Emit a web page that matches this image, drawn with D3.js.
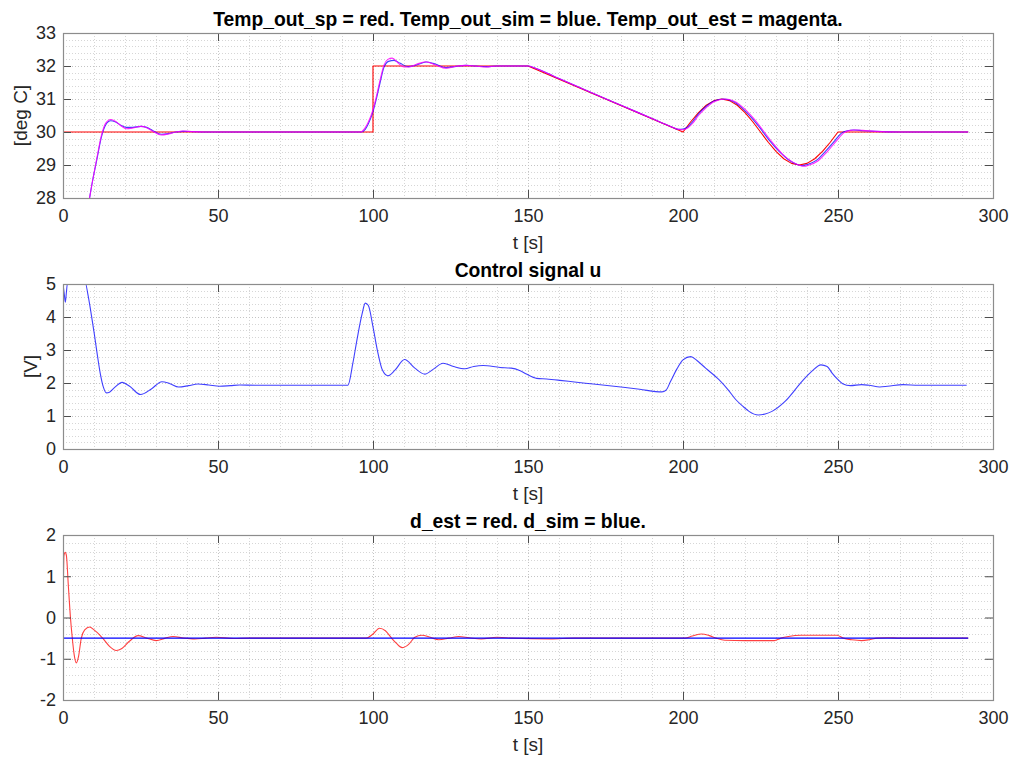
<!DOCTYPE html>
<html><head><meta charset="utf-8">
<script src="https://cdn.jsdelivr.net/npm/d3@7"></script>
<style>
html,body{margin:0;padding:0;background:#fff;}
svg text{font-family:"Liberation Sans",Arial,Helvetica,sans-serif;}
</style></head>
<body><svg id="c" width="1013" height="758"></svg>
<script>
// ---------- DATA ----------
// Panel 1: temperatures
const spT = [0,100,100,150,200,202.5,205,207.5,210,212.5,215,217.5,220,222.5,225,227.5,230,232.5,235,237.5,240,242.5,245,247.5,250,292];
const spV = [30,30,32,32,30,30.31,30.59,30.81,30.95,31.0,30.95,30.81,30.59,30.31,30.0,29.69,29.41,29.19,29.05,29.0,29.05,29.19,29.41,29.69,30.0,30.0];

const simT = [0,3,6,8,9.5,11,12.4,13.8,15.4,17,18.8,20.4,22.5,25.1,27,29,31.7,34,36.5,38.7,42,46,60,96.2,97.5,98.5,100,101.2,102.3,103.5,105,106.8,108.8,111.3,114,117.1,120,123.6,126.8,130,133,136.5,140,145,150,152,155,160,170,180,190,196,198.5,200,201.5,203,205,207.5,210,213,216,219,222,225,228,231,234,237,238.5,240,243,246,249,251,253,255,258,262,270,292];
const simV = [23.5,25.2,26.8,27.7,28.5,29.2,29.85,30.22,30.34,30.3,30.2,30.14,30.14,30.17,30.14,30.04,29.93,29.95,30.0,30.02,30.01,30.0,30.0,30.0,30.08,30.25,30.62,31.05,31.5,31.95,32.14,32.17,32.08,31.98,32.03,32.12,32.06,31.95,31.99,32.02,32.0,31.98,32.0,32.0,32.0,31.95,31.83,31.62,31.21,30.81,30.41,30.17,30.08,30.09,30.15,30.3,30.55,30.78,30.94,31.0,30.93,30.73,30.44,30.1,29.73,29.41,29.16,29.01,28.98,29.01,29.14,29.42,29.74,29.96,30.04,30.06,30.04,30.02,30.0,30.0];

const estT = [0,3,6,8,9.5,11,12.4,13.8,15.4,17,18.8,20.4,22.5,25.1,27,29,31.7,34,36.5,38.7,42,46,60,96.0,97.3,98.5,100,101.2,102.3,103.5,104.8,106.2,108,110,111.5,114,117,120,123.6,126.8,130,133,136.5,140,145,150,152,155,160,170,180,190,196,198.5,200,201.5,203,205,207.5,210,213.5,216.5,219.5,222.5,226.2,229,232,235,237.5,239,240.5,243.5,246.5,249.5,252,254,255.5,258,262,270,292];
const estV = [23.3,25.1,26.8,27.7,28.5,29.25,29.9,30.27,30.38,30.32,30.18,30.1,30.12,30.17,30.13,30.02,29.91,29.94,30.0,30.03,30.01,30.0,30.0,30.0,30.1,30.3,30.68,31.12,31.58,32.02,32.2,32.24,32.1,31.97,31.97,32.05,32.13,32.04,31.93,31.99,32.02,32.0,31.97,32.0,32.0,32.0,31.95,31.83,31.62,31.21,30.81,30.41,30.17,30.08,30.07,30.12,30.25,30.5,30.74,30.92,31.0,30.93,30.73,30.44,30.0,29.66,29.34,29.11,28.99,28.96,28.99,29.12,29.4,29.73,29.98,30.05,30.06,30.05,30.02,30.0,30.0];

// Panel 2: control signal u
const uT = [0,0.4,0.75,1.1,1.4,7.3,8,9,10,11,12,13,14,15,16.5,19.1,21.5,25,28.5,31.9,34.5,37.3,40.5,43.5,47,50.5,54,57,62,70,91.9,93.5,95,96.5,97.5,98.5,100,101.5,103,104.8,107,110.2,113.5,116.7,119.5,122.6,126,129.6,132.5,135.5,141,144.6,147.3,149.5,152.8,156,160.3,165,171,180.7,186,193.2,194.5,196,198,200,202.5,204.5,207.3,211.6,214.5,217,219.5,221.3,224.3,226.5,228.7,233,238.4,241.5,244.5,246.5,248.1,250,251.5,254,257.6,260,263.5,266,271,276,291.5];
const uV = [5,4.7,4.45,4.75,5,5,4.7,4.15,3.55,2.9,2.3,1.88,1.7,1.72,1.85,2.02,1.9,1.65,1.82,2.04,1.98,1.88,1.92,1.97,1.94,1.9,1.92,1.94,1.93,1.93,1.93,2.6,3.4,4.1,4.42,4.35,3.7,2.95,2.4,2.22,2.38,2.71,2.45,2.27,2.42,2.6,2.5,2.43,2.5,2.53,2.47,2.45,2.38,2.27,2.14,2.12,2.08,2.03,1.97,1.87,1.81,1.73,1.78,2.05,2.42,2.7,2.8,2.68,2.45,2.1,1.8,1.5,1.28,1.14,1.03,1.06,1.14,1.45,2.05,2.35,2.55,2.5,2.3,2.1,1.98,1.92,1.95,1.93,1.88,1.9,1.95,1.93,1.93];

// Panel 3: disturbances
const dEstT = [0,0.3,0.7,1.1,1.7,2.4,3,3.6,4.3,5,5.9,7,8.6,10,11.8,13,15,17.2,19,21.5,24.2,27,30.1,33,35.5,39,42.5,46,49.5,55,60,97.8,100,102.1,104,106,107.5,109.4,111.5,113.5,115.7,118.5,121.2,124.5,127.7,131,134.9,140,145,157.3,165,200.6,203,206,208.5,210.7,213.5,220,229.4,231.6,234,238,244,249.6,251.7,254.5,257.6,260,262.6,266,270,292];
const dEstV = [0,1.5,1.58,1.5,0.8,0,-0.5,-0.9,-1.1,-0.95,-0.5,-0.3,-0.23,-0.3,-0.42,-0.52,-0.7,-0.8,-0.75,-0.57,-0.44,-0.5,-0.56,-0.5,-0.46,-0.5,-0.52,-0.5,-0.48,-0.51,-0.5,-0.5,-0.4,-0.26,-0.32,-0.5,-0.62,-0.73,-0.65,-0.48,-0.43,-0.48,-0.54,-0.5,-0.46,-0.49,-0.52,-0.48,-0.5,-0.52,-0.5,-0.5,-0.45,-0.4,-0.44,-0.5,-0.55,-0.56,-0.56,-0.5,-0.46,-0.43,-0.43,-0.43,-0.5,-0.54,-0.56,-0.54,-0.5,-0.49,-0.5,-0.5];
const dSimT = [0,292];
const dSimV = [-0.5,-0.5];

const xTicks = [0,50,100,150,200,250,300];
const y1Ticks = [28,29,30,31,32,33];
const y2Ticks = [0,1,2,3,4,5];
const y3Ticks = [-2,-1,0,1,2];

const titles = ["Temp_out_sp = red. Temp_out_sim = blue. Temp_out_est = magenta.","Control signal u","d_est = red. d_sim = blue."];
const yLabels = ["[deg C]","[V]",""];
const xLabel = "t [s]";

// ---------- DRAW ----------
const svg = d3.select("#c");
const L = 63, R = 993;
const x = d3.scaleLinear().domain([0,300]).range([L,R]);

function zip(t,v){ return t.map((d,i)=>[d,v[i]]); }

function panel(idx, top, bottom, ydom, yticks, ylabelX, series){
  const y = d3.scaleLinear().domain(ydom).range([bottom, top]);
  const g = svg.append("g");
  const clipId = "clip"+idx;
  svg.append("clipPath").attr("id",clipId).append("rect")
     .attr("x",L).attr("y",top).attr("width",R-L).attr("height",bottom-top);
  // grid (dotted)
  const xMinor = d3.range(0,301,10);
  const yMinor = d3.range(Math.round(ydom[0]*5), Math.round(ydom[1]*5)+1).map(d=>d/5);
  g.append("g").selectAll("line").data(xMinor).join("line")
    .attr("x1",d=>Math.round(x(d))+0.5).attr("x2",d=>Math.round(x(d))+0.5)
    .attr("y1",top).attr("y2",bottom)
    .attr("stroke",d=> d%50===0 ? "#c4c4c4" : "#d6d6d6").attr("stroke-width",1).attr("stroke-dasharray","1,2");
  g.append("g").selectAll("line").data(yMinor).join("line")
    .attr("y1",d=>Math.round(y(d))+0.5).attr("y2",d=>Math.round(y(d))+0.5)
    .attr("x1",L).attr("x2",R)
    .attr("stroke",d=> Math.abs(d-Math.round(d))<1e-6 ? "#c4c4c4" : "#d6d6d6").attr("stroke-width",1).attr("stroke-dasharray","1,2");

  // data lines
  const line = d3.line().x(d=>x(d[0])).y(d=>y(d[1]));
  const lg = g.append("g").attr("clip-path","url(#"+clipId+")");
  series.forEach(s=>{
    line.curve(s.curve);
    lg.append("path").datum(zip(s.t,s.v)).attr("d",line)
      .attr("fill","none").attr("stroke",s.color).attr("stroke-width",s.w||1.1)
      .attr("stroke-opacity",s.op||1).attr("stroke-linejoin","round");
  });

  // axes (ticks inward)
  const fmt = d => String(d);
  const ax = g.append("g").attr("transform",`translate(0,${bottom})`)
    .call(d3.axisBottom(x).tickValues(xTicks).tickSizeInner(-8).tickSizeOuter(0).tickPadding(11).tickFormat(fmt));
  const axT = g.append("g").attr("transform",`translate(0,${top})`)
    .call(d3.axisTop(x).tickValues(xTicks).tickSizeInner(-8).tickSizeOuter(0).tickFormat(""));
  const ay = g.append("g").attr("transform",`translate(${L},0)`)
    .call(d3.axisLeft(y).tickValues(yticks).tickSizeInner(-8).tickSizeOuter(0).tickPadding(7).tickFormat(fmt));
  const ayR = g.append("g").attr("transform",`translate(${R},0)`)
    .call(d3.axisRight(y).tickValues(yticks).tickSizeInner(-8).tickSizeOuter(0).tickFormat(""));
  [ax,axT,ay,ayR].forEach(a=>{
    a.select(".domain").remove();
    a.selectAll(".tick line").attr("stroke","#4d4d4d");
    a.selectAll(".tick text").attr("fill","#262626").style("font-size","18px");
  });
  // box
  g.append("rect").attr("x",L+0.5).attr("y",top+0.5).attr("width",R-L).attr("height",bottom-top)
    .attr("fill","none").attr("stroke","#8c8c8c").attr("stroke-width",1.2);

  // title
  svg.append("text").attr("x",(L+R)/2).attr("y",top-7).attr("text-anchor","middle")
    .style("font-size","19.3px").style("font-weight","bold").attr("fill","#000").text(titles[idx]);
  // xlabel
  svg.append("text").attr("x",(L+R)/2).attr("y",bottom+51).attr("text-anchor","middle")
    .style("font-size","19px").attr("fill","#262626").text(xLabel);
  // ylabel
  if(yLabels[idx]){
    svg.append("text").attr("transform",`translate(${ylabelX},${(top+bottom)/2}) rotate(-90)`)
      .attr("text-anchor","middle").style("font-size","19px").attr("fill","#262626").text(yLabels[idx]);
  }
}

panel(0, 33, 198, [28,33], y1Ticks, 27, [
  {t:spT, v:spV, color:"#ff0000", curve:d3.curveLinear},
  {t:simT, v:simV, color:"#0000ff", curve:d3.curveMonotoneX, op:0.75},
  {t:estT, v:estV, color:"#ff00ff", curve:d3.curveMonotoneX, op:0.85}
]);
panel(1, 284, 449, [0,5], y2Ticks, 37, [
  {t:uT, v:uV, color:"#0000ff", curve:d3.curveMonotoneX, op:0.75}
]);
panel(2, 535, 700, [-2,2], y3Ticks, 0, [
  {t:dEstT, v:dEstV, color:"#ff0000", curve:d3.curveMonotoneX, op:0.75},
  {t:dSimT, v:dSimV, color:"#0000ff", curve:d3.curveLinear}
]);
</script>
</body></html>
